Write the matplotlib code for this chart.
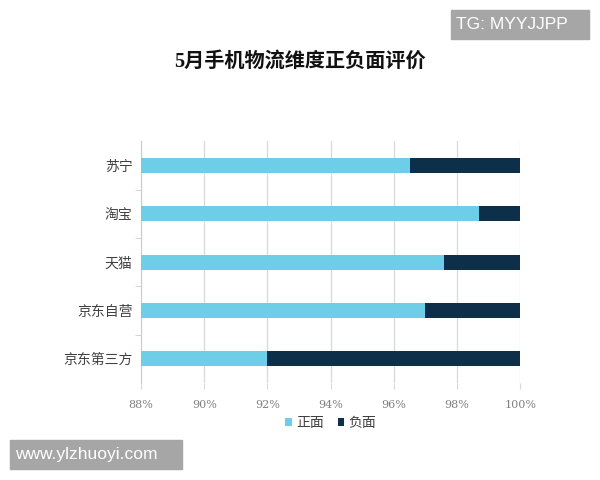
# 5月手机物流维度正负面评价 - stacked horizontal bars
import matplotlib.pyplot as plt
from matplotlib.patches import Rectangle

plt.rcParams['font.family'] = ['Noto Sans CJK SC', 'DejaVu Sans']

platforms = ["苏宁", "淘宝", "天猫", "京东自营", "京东第三方"]
positive = [96.5, 98.7, 97.6, 97.0, 92.0]
negative = [3.5, 1.3, 2.4, 3.0, 8.0]
xticks = [88, 90, 92, 94, 96, 98, 100]

fig = plt.figure(figsize=(6, 4.8), dpi=100)
ax = fig.add_axes([0.235, 0.202, 0.632, 0.504])

ypos = list(range(len(platforms)))
ax.barh(ypos, positive, height=0.31, color='#6ccfe7', label='正面', zorder=3)
ax.barh(ypos, negative, left=positive, height=0.31, color='#0d2f4a', label='负面', zorder=3)

ax.set_xlim(88, 100)
ax.set_ylim(len(platforms) - 0.5, -0.5)
ax.set_yticks(ypos)
ax.set_yticklabels(platforms, fontsize=10, color='#404040')
ax.set_yticks([i + 0.5 for i in ypos[:-1]], minor=True)
ax.tick_params(axis='y', which='major', length=0, pad=6)
ax.tick_params(axis='y', which='minor', length=4, color='#cccccc')

ax.set_xticks(xticks)
ax.set_xticklabels([f"{v}%" for v in xticks], fontsize=8, color='#808080',
                   family='DejaVu Serif')
ax.tick_params(axis='x', length=4, color='#d9d9d9', pad=8)
ax.grid(axis='x', color='#d9d9d9', linewidth=0.9, zorder=0)

for s in ['top', 'right', 'bottom']:
    ax.spines[s].set_visible(False)
ax.spines['left'].set_color('#cccccc')

fig.text(0.5, 1 - 62 / 480, "5月手机物流维度正负面评价", ha='center', va='center',
         fontsize=14.5, fontweight='bold', color='#111111',
         family=['Liberation Serif', 'Noto Sans CJK SC'])

ax.legend(loc='upper center', bbox_to_anchor=(0.5, -0.085), ncol=2, frameon=False,
          fontsize=10, handlelength=0.5, handleheight=0.5, handletextpad=0.3,
          columnspacing=1.0, labelcolor='#404040')

# watermarks
fig.patches.append(Rectangle((451 / 600, 1 - 39 / 480), 138 / 600, 29 / 480,
                             transform=fig.transFigure, color='#a6a6a6'))
fig.text(456 / 600, 1 - 24.5 / 480, "TG: MYYJJPP", ha='left', va='center',
         fontsize=12.5, color='white', family='Liberation Sans')
fig.patches.append(Rectangle((10 / 600, 1 - 469 / 480), 172 / 600, 29 / 480,
                             transform=fig.transFigure, color='#a6a6a6'))
fig.text(15 / 600, 1 - 454.5 / 480, "www.ylzhuoyi.com", ha='left', va='center',
         fontsize=12.5, color='white', family='Liberation Sans')

plt.savefig("out.png", dpi=100)
